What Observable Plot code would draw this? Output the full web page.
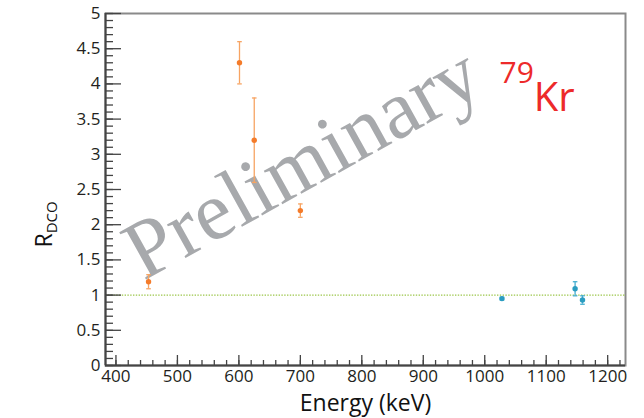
<!DOCTYPE html>
<html><head><meta charset="utf-8">
<script src="https://cdn.jsdelivr.net/npm/d3@7"></script>
<script src="https://cdn.jsdelivr.net/npm/@observablehq/plot@0.6"></script>
<style>body{margin:0;background:#fff;}</style>
</head><body><div id="chart"></div>
<script>
// Data
const energyOrange = [453, 601, 625, 700];
const rdcoOrange   = [1.19, 4.30, 3.20, 2.20];
const errOrange    = [0.10, 0.30, 0.60, 0.095];
const energyBlue = [1028, 1147, 1159];
const rdcoBlue   = [0.95, 1.09, 0.93];
const errBlue    = [0.02, 0.10, 0.06];
const refLine = [1];
const xTicks = [400, 500, 600, 700, 800, 900, 1000, 1100, 1200];
const xTickLabels = ["400", "500", "600", "700", "800", "900", "1000", "1100", "1200"];
const yTicks = [0, 0.5, 1, 1.5, 2, 2.5, 3, 3.5, 4, 4.5, 5];
const yTickLabels = ["0", "0.5", "1", "1.5", "2", "2.5", "3", "3.5", "4", "4.5", "5"];
const xMinor = d3.range(400, 1229, 20);
const yMinor = d3.range(0, 51).map(d => d / 10);
const xDomain = [383, 1229];
const yDomain = [0, 5];
const watermark = {text: "Preliminary", x: 445, y: 1.2};
const isotope = {mass: "79", element: "Kr", x: 1024, y: 4.01};
const xTitle = "Energy (keV)";
const yTitle = {main: "R", sub: "DCO"};

const W = 644, H = 418, mL = 105, mR = 19, mT = 13, mB = 53;
const plotW = W - mL - mR, plotH = H - mT - mB;

const mk = (E, R, S) => E.map((e, i) => ({e, r: R[i], lo: R[i] - S[i], hi: R[i] + S[i]}));
const orange = mk(energyOrange, rdcoOrange, errOrange);
const blue = mk(energyBlue, rdcoBlue, errBlue);

const capSymbol = {draw(ctx, size) { const w = Math.sqrt(size / Math.PI); ctx.moveTo(-w, 0); ctx.lineTo(w, 0); }};

const errMarks = (data, barColor, dotColor) => [
  Plot.ruleX(data, {x: "e", y1: "lo", y2: "hi", stroke: barColor, strokeWidth: 1.3}),
  Plot.dot(data, {x: "e", y: "lo", symbol: capSymbol, r: 2.3, stroke: barColor, strokeWidth: 1.3}),
  Plot.dot(data, {x: "e", y: "hi", symbol: capSymbol, r: 2.3, stroke: barColor, strokeWidth: 1.3}),
  Plot.dot(data, {x: "e", y: "r", r: 2.7, fill: dotColor, stroke: "none"})
];

const chart = Plot.plot({
  width: W, height: H,
  marginLeft: mL, marginRight: mR, marginTop: mT, marginBottom: mB,
  x: {domain: xDomain},
  y: {domain: yDomain},
  style: {fontFamily: "'Open Sans', sans-serif", fontSize: "17px", color: "#231f20", background: "#fff"},
  marks: [
    Plot.frame({stroke: "#8a8a8a", strokeWidth: 2}),
    Plot.ruleY(refLine, {stroke: "#9cc64a", strokeWidth: 1.3, strokeDasharray: "1.4 1.4"}),
    Plot.text([watermark.text], {x: () => watermark.x, y: () => watermark.y, rotate: -29, textAnchor: "start", lineAnchor: "bottom",
      fontSize: 83, fontFamily: "'Liberation Serif', 'DejaVu Serif', serif", fill: "#a7a9ac"}),
    ...errMarks(orange, "#f7a463", "#f47b2a"),
    ...errMarks(blue, "#46aed0", "#2a9cc0"),
    Plot.text([isotope.mass], {x: () => isotope.x, y: () => isotope.y, textAnchor: "start", lineAnchor: "bottom",
      fontSize: 30, fill: "#ed2a2a"}),
    // axis lines
    Plot.ruleX([xDomain[0]], {stroke: "#444", strokeWidth: 2}),
    Plot.ruleY([yDomain[0]], {stroke: "#444", strokeWidth: 2}),
    // y ticks (inward)
    Plot.tickY(yMinor, {y: d => d, insetRight: plotW - 8, stroke: "#444", strokeWidth: 1.3}),
    Plot.tickY(yTicks, {y: d => d, insetRight: plotW - 16, stroke: "#444", strokeWidth: 1.3}),
    // x ticks (inward)
    Plot.tickX(xMinor, {x: d => d, insetTop: plotH - 5, stroke: "#444", strokeWidth: 1.3}),
    Plot.tickX(xTicks, {x: d => d, insetTop: plotH - 10, stroke: "#444", strokeWidth: 1.3}),
    Plot.axisY(yTicks, {anchor: "left", tickSize: 0, tickPadding: 5, fontSize: 17, label: null,
      tickFormat: d => yTickLabels[yTicks.indexOf(d)]}),
    Plot.axisX(xTicks, {anchor: "bottom", tickSize: 0, tickPadding: 4, fontSize: 17, label: null,
      tickFormat: d => xTickLabels[xTicks.indexOf(d)]}),
    Plot.text([xTitle], {frameAnchor: "bottom", dy: 45, lineAnchor: "bottom", fontSize: 23, fill: "#111"}),
    Plot.text([yTitle.main], {frameAnchor: "left", dx: -54, dy: 58, rotate: -90, textAnchor: "start", lineAnchor: "bottom",
      fontSize: 23, fill: "#111"})
  ]
});

const svg = d3.select(chart);
svg.selectAll("text").filter(function() { return this.textContent === yTitle.main; })
  .append("tspan").attr("font-size", 15).attr("dy", "0.35em").text(yTitle.sub);
svg.selectAll("text").filter(function() { return this.textContent === isotope.mass; })
  .append("tspan").attr("font-size", 40).attr("dy", 28).text(isotope.element);
document.getElementById("chart").append(chart);
</script>
</body></html>
